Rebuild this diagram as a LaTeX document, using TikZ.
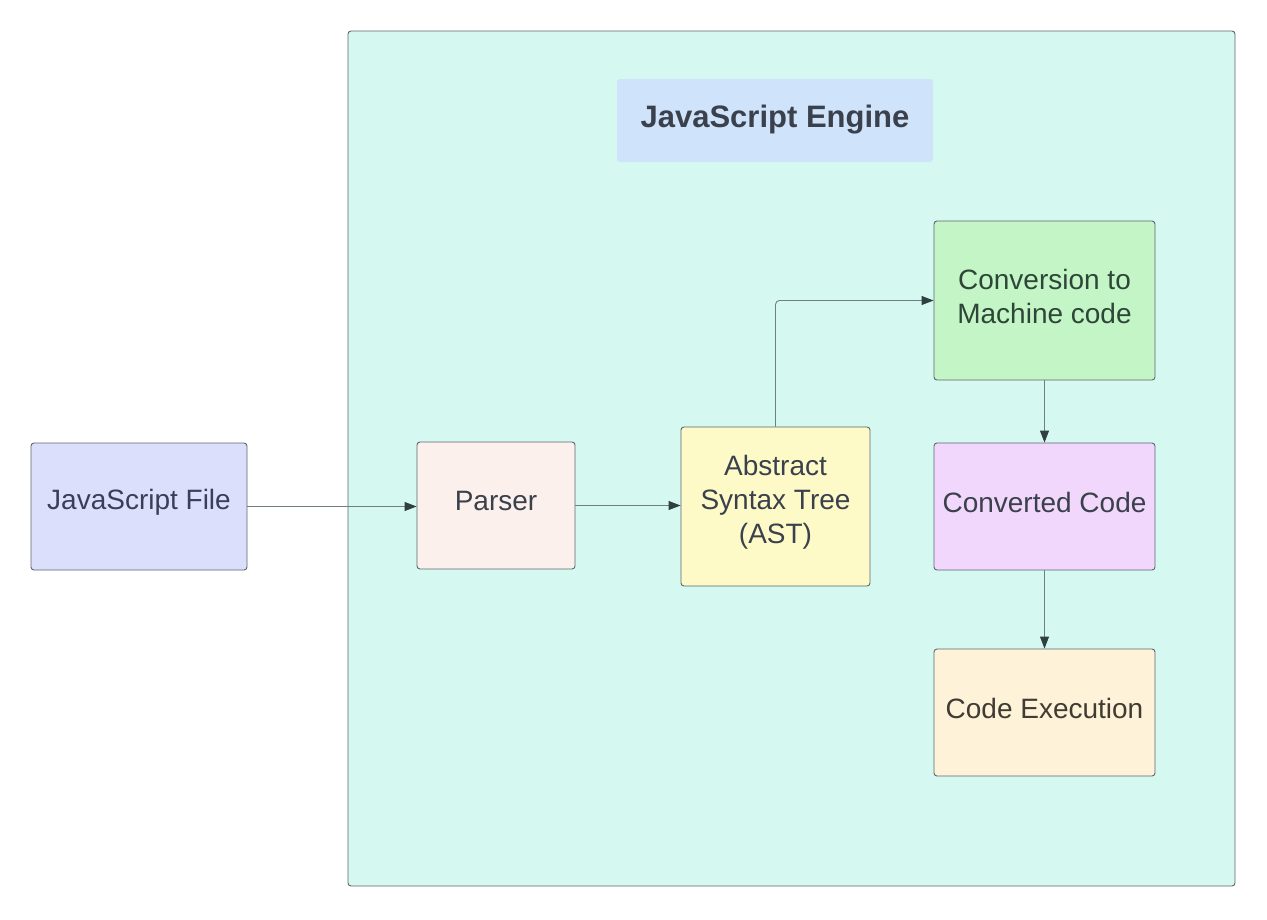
\documentclass[tikz,border=0pt]{standalone}
\usepackage{fontspec}
\setmainfont{Liberation Sans}
\usetikzlibrary{arrows.meta,calc}
\definecolor{frame}{HTML}{5E6670}
\definecolor{engine}{HTML}{D5F8F0}
\definecolor{titlefill}{HTML}{CFE3FB}
\definecolor{jsfill}{HTML}{DCDFFB}
\definecolor{parsefill}{HTML}{FCF0EC}
\definecolor{astfill}{HTML}{FDFAC8}
\definecolor{convfill}{HTML}{C3F5C6}
\definecolor{codefill}{HTML}{F2D7FC}
\definecolor{execfill}{HTML}{FEF2D8}
\definecolor{txt}{HTML}{3B414C}
\definecolor{jstxt}{HTML}{3A3E58}
\definecolor{convtxt}{HTML}{2E4638}
\definecolor{exectxt}{HTML}{403C34}
\definecolor{arrline}{HTML}{6F8082}
\definecolor{arrhead}{HTML}{2F3F42}
\tikzset{
  x=1pt, y=-1pt,
  box/.style={draw=frame, line width=0.9pt, rounded corners=3pt, inner sep=0pt},
  lbl/.style={align=center, text=txt, font=\fontsize{28}{34}\selectfont, yshift=4pt, inner sep=0pt},
  flow/.style={draw=arrline, line width=0.9pt,
    -{Triangle[length=12pt,width=9pt,fill=arrhead,color=arrhead]}},
}
\begin{document}
\begin{tikzpicture}
\useasboundingbox (0,0) rectangle (1267,919);
\fill[white] (0,0) rectangle (1267,919);
\node[box, fill=engine, minimum width=887pt, minimum height=855pt] (engine) at (791.5,458.5) {};
\node[box, draw=none, fill=titlefill, minimum width=316pt, minimum height=83pt,
  label={[lbl, yshift=-3pt, font=\fontsize{31}{36}\selectfont\bfseries]center:JavaScript Engine}] (title) at (775,120.5) {};
\node[box, fill=jsfill, minimum width=216pt, minimum height=127pt,
  label={[lbl, text=jstxt]center:JavaScript File}] (js) at (139,506.5) {};
\node[box, fill=parsefill, minimum width=158pt, minimum height=127pt,
  label={[lbl, yshift=1pt]center:Parser}] (parser) at (496,505.5) {};
\node[box, fill=astfill, minimum width=189pt, minimum height=159pt,
  label={[lbl]center:Abstract\\Syntax Tree\\(AST)}] (ast) at (775.5,506.5) {};
\node[box, fill=convfill, minimum width=221pt, minimum height=159pt,
  label={[lbl, text=convtxt]center:Conversion to\\Machine code}] (conv) at (1044.5,300.5) {};
\node[box, fill=codefill, minimum width=221pt, minimum height=127pt,
  label={[lbl]center:Converted Code}] (code) at (1044.5,506.5) {};
\node[box, fill=execfill, minimum width=221pt, minimum height=127pt,
  label={[lbl, text=exectxt]center:Code Execution}] (exec) at (1044.5,712.5) {};
\draw[flow] (js.east) -- (js.east -| parser.west);
\draw[flow] (parser.east) -- (parser.east -| ast.west);
\draw[flow, rounded corners=4pt] (ast.north) |- (conv.west);
\draw[flow] (conv.south) -- (code.north);
\draw[flow] (code.south) -- (exec.north);
\end{tikzpicture}
\end{document}
